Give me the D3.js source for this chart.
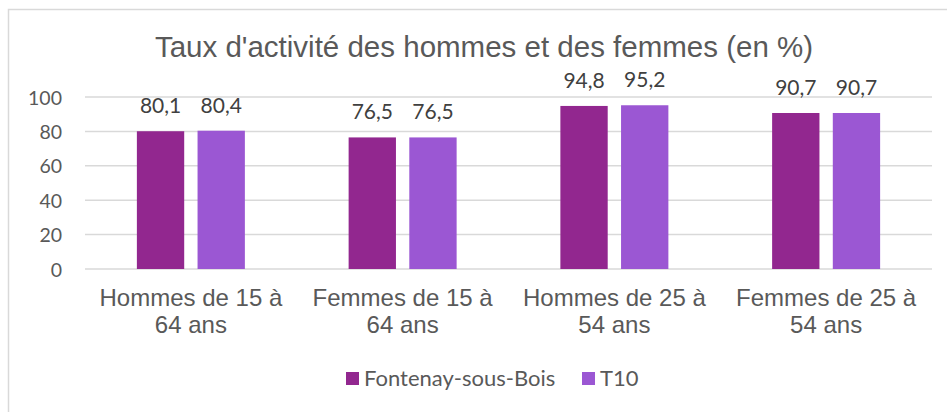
<!DOCTYPE html>
<html>
<head>
<meta charset="utf-8">
<script src="https://cdn.jsdelivr.net/npm/d3@7"></script>
<style>
  body { margin:0; background:#fff; }
  svg { display:block; }
</style>
</head>
<body>
<svg></svg>
<script>
var categories = [["Hommes de 15 à","64 ans"],["Femmes de 15 à","64 ans"],["Hommes de 25 à","54 ans"],["Femmes de 25 à","54 ans"]];
var series = ["Fontenay-sous-Bois","T10"];
var fontenay = [80.1, 76.5, 94.8, 90.7];
var t10 = [80.4, 76.5, 95.2, 90.7];
var yTicks = [0,20,40,60,80,100];
var title = "Taux d'activité des hommes et des femmes (en %)";

var colors = d3.scaleOrdinal().domain(series).range(["#92278f","#9b57d3"]);

var screen = {width:947, height:412};

var svg = d3.select("svg")
            .attr("width",screen.width)
            .attr("height",screen.height)

var margins = {top:97, bottom:143, left:85, right:15}
var width = screen.width - margins.left - margins.right;
var height = screen.height - margins.top - margins.bottom;

// chart border
svg.append("rect")
   .attr("x",8.5).attr("y",9.5)
   .attr("width",950).attr("height",420)
   .attr("fill","none")
   .attr("stroke","#d9d9d9")
   .attr("stroke-width",1.5)

svg.append("text")
   .attr("x",484).attr("y",57)
   .attr("text-anchor","middle")
   .attr("fill","#595959")
   .style("font-family","'Liberation Sans', Arial, sans-serif")
   .style("font-size","29.5px")
   .text(title)

var xScale = d3.scaleBand()
               .domain(d3.range(categories.length))
               .range([0,width]);
var yScale = d3.scaleLinear()
               .domain([0,100])
               .range([height,0]);

var plotLand = svg.append("g")
                  .attr("transform","translate("+margins.left+","+margins.top+")");

// gridlines
plotLand.selectAll("line.grid")
        .data(yTicks)
        .enter()
        .append("line")
        .attr("x1",0).attr("x2",width)
        .attr("y1",function(d){return yScale(d)})
        .attr("y2",function(d){return yScale(d)})
        .attr("stroke","#d9d9d9")
        .attr("stroke-width",1.5)

var yAxis = d3.axisLeft(yScale).tickValues(yTicks).tickSize(0).tickPadding(23);
plotLand.append("g")
        .call(yAxis)
        .call(function(g){ g.select(".domain").remove(); })
        .selectAll("text")
        .attr("fill","#595959")
        .attr("dy","0.36em")
        .style("font-family","Lato, 'Open Sans', sans-serif")
        .style("font-size","19.5px")

var rows = categories.map(function(c,i){
  return {i:i, values:[fontenay[i], t10[i]]};
});

var groups = plotLand.selectAll("g.cat")
                     .data(rows)
                     .enter()
                     .append("g")
                     .attr("transform",function(d){return "translate("+(xScale(d.i)+xScale.bandwidth()/2)+",0)";})

var x1 = d3.scaleBand().domain(series).range([-54,54]).paddingInner(0.22);

var bars = groups.selectAll("g.bar")
                 .data(function(d){return d.values.map(function(v,j){return {s:series[j], v:v};});})
                 .enter()
                 .append("g")

bars.append("rect")
    .attr("x",function(d){return x1(d.s)})
    .attr("width",x1.bandwidth())
    .attr("y",function(d){return yScale(d.v)})
    .attr("height",function(d){return height - yScale(d.v)})
    .attr("fill",function(d){return colors(d.s)})

bars.append("text")
    .attr("x",function(d){return x1(d.s)+x1.bandwidth()/2})
    .attr("y",function(d){return yScale(d.v)-18})
    .attr("text-anchor","middle")
    .attr("fill","#404040")
    .style("font-family","Lato, 'Open Sans', sans-serif")
    .style("font-size","21px")
    .text(function(d){return d3.format(".1f")(d.v).replace(".",",")})

// category labels
var catLabels = plotLand.selectAll("text.cat")
                        .data(categories)
                        .enter()
                        .append("text")
                        .attr("text-anchor","middle")
                        .attr("fill","#595959")
                        .style("font-family","'Liberation Sans', Arial, sans-serif")
                        .style("font-size","24px")
                        .attr("transform",function(d,i){return "translate("+(xScale(i)+xScale.bandwidth()/2)+","+(height+37)+")";})

catLabels.selectAll("tspan")
         .data(function(d){return d})
         .enter()
         .append("tspan")
         .attr("x",0)
         .attr("dy",function(d,i){return i==0 ? 0 : 27})
         .text(function(d){return d})

// legend
var legend = svg.append("g")
                .attr("transform","translate(0,378)");
var legendX = [346, 582];
var legendLines = legend.selectAll("g")
                        .data(series)
                        .enter()
                        .append("g")
                        .attr("transform",function(d,i){return "translate("+legendX[i]+",0)";})

legendLines.append("rect")
           .attr("x",0).attr("y",-6)
           .attr("width",13).attr("height",13)
           .attr("fill",function(d){return colors(d)})

legendLines.append("text")
           .attr("x",18).attr("y",8)
           .attr("fill","#595959")
           .style("font-family","Lato, 'Open Sans', sans-serif")
           .style("font-size","22px")
           .text(function(d){return d})
</script>
</body>
</html>
